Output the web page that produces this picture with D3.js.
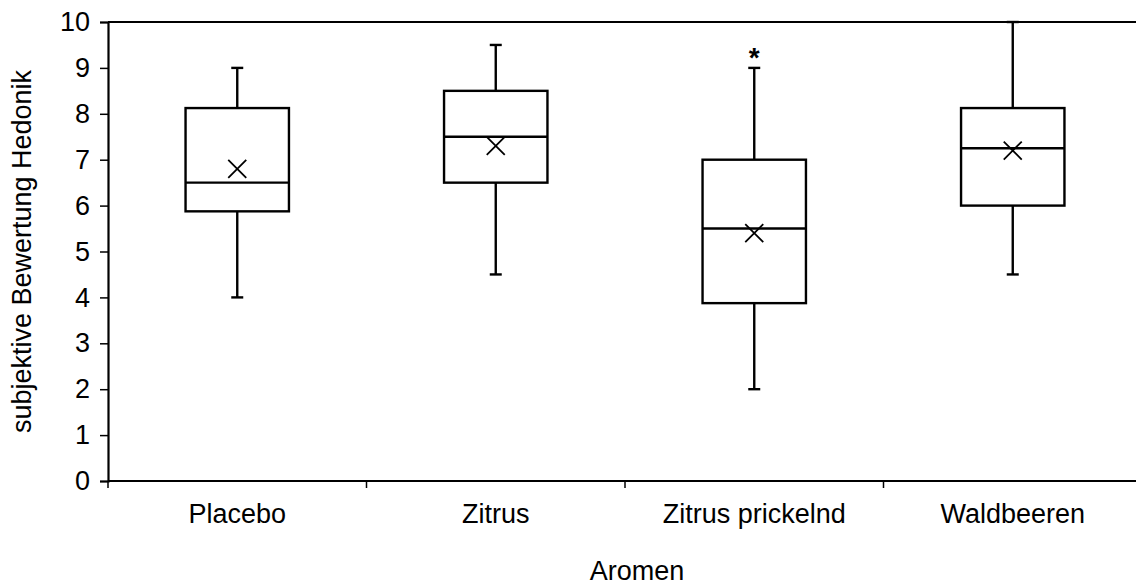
<!DOCTYPE html>
<html>
<head>
<meta charset="utf-8">
<script src="https://cdn.jsdelivr.net/npm/d3@7"></script>
<style>
  body { margin: 0; background: #fff; }
  text { font-family: "Liberation Sans", Arial, sans-serif; fill: #000; }
</style>
</head>
<body>
<div id="chart"></div>
<script>
// box plot data
let categories = ["Placebo", "Zitrus", "Zitrus prickelnd", "Waldbeeren"];
let minVals    = [4, 4.5, 2, 4.5];
let q1Vals     = [5.875, 6.5, 3.875, 6];
let medians    = [6.5, 7.5, 5.5, 7.25];
let q3Vals     = [8.125, 8.5, 7, 8.125];
let maxVals    = [9, 9.5, 9, 10];
let means      = [6.8, 7.3, 5.4, 7.2];
let yTicks     = [0, 1, 2, 3, 4, 5, 6, 7, 8, 9, 10];
let outliers   = [{cat: "Zitrus prickelnd", value: 9.35}];

let width = 1136, height = 586;
let margin = {left: 108, top: 22, right: -6, bottom: 105};
let fontSize = '27px';

let svg = d3.select('#chart').append('svg')
    .attr('width', width)
    .attr('height', height);

let x = d3.scaleBand()
    .domain(categories)
    .range([margin.left, width - margin.right]);
let y = d3.scaleLinear()
    .domain([0, 10])
    .range([height - margin.bottom, margin.top]);

let boxW = x.bandwidth() * 0.4;
let capW = 12;

// top border line
svg.append('line')
    .attr('x1', margin.left).attr('x2', width)
    .attr('y1', y(10)).attr('y2', y(10))
    .attr('stroke', '#000').attr('stroke-width', 2);

// y axis
let yAxis = svg.append('g')
    .attr('transform', 'translate(' + margin.left + ',0)')
    .call(d3.axisLeft(y).tickValues(yTicks).tickSize(8).tickPadding(10));
yAxis.select('.domain').attr('stroke-width', 2.2);
yAxis.selectAll('.tick line').attr('stroke-width', 1.5);
yAxis.selectAll('text')
    .style('font-size', fontSize)
    .style('font-family', '"Liberation Sans", Arial, sans-serif');

// x axis: ticks at category boundaries
let xg = svg.append('g');
xg.append('line')
    .attr('x1', margin.left).attr('x2', width)
    .attr('y1', y(0)).attr('y2', y(0))
    .attr('stroke', '#000').attr('stroke-width', 2.2);
categories.forEach(function(c) {
    xg.append('line')
        .attr('x1', x(c)).attr('x2', x(c))
        .attr('y1', y(0)).attr('y2', y(0) + 7)
        .attr('stroke', '#000').attr('stroke-width', 1.5);
    xg.append('text')
        .attr('x', x(c) + x.bandwidth() / 2)
        .attr('y', 523)
        .attr('text-anchor', 'middle')
        .style('font-size', fontSize)
        .text(c);
});

// boxes
categories.forEach(function(c, i) {
    let cx = x(c) + x.bandwidth() / 2;
    let g = svg.append('g')
        .attr('stroke', '#000')
        .attr('fill', 'none')
        .attr('stroke-width', 2.4);

    // whiskers
    g.append('line').attr('x1', cx).attr('x2', cx)
        .attr('y1', y(q3Vals[i])).attr('y2', y(maxVals[i]));
    g.append('line').attr('x1', cx).attr('x2', cx)
        .attr('y1', y(q1Vals[i])).attr('y2', y(minVals[i]));
    g.append('line').attr('x1', cx - capW / 2).attr('x2', cx + capW / 2)
        .attr('y1', y(maxVals[i])).attr('y2', y(maxVals[i]));
    g.append('line').attr('x1', cx - capW / 2).attr('x2', cx + capW / 2)
        .attr('y1', y(minVals[i])).attr('y2', y(minVals[i]));

    // box
    g.append('rect')
        .attr('x', cx - boxW / 2)
        .attr('y', y(q3Vals[i]))
        .attr('width', boxW)
        .attr('height', y(q1Vals[i]) - y(q3Vals[i]))
        .attr('fill', '#fff');

    // median
    g.append('line').attr('x1', cx - boxW / 2).attr('x2', cx + boxW / 2)
        .attr('y1', y(medians[i])).attr('y2', y(medians[i]));

    // mean marker (x)
    let my = y(means[i]), s = 9;
    g.append('path')
        .attr('d', 'M' + (cx - s) + ',' + (my - s) + 'L' + (cx + s) + ',' + (my + s) +
                   'M' + (cx - s) + ',' + (my + s) + 'L' + (cx + s) + ',' + (my - s))
        .attr('stroke-width', 1.8);
});

// outlier asterisks
outliers.forEach(function(o) {
    svg.append('text')
        .attr('x', x(o.cat) + x.bandwidth() / 2)
        .attr('y', y(o.value) + 15)
        .attr('text-anchor', 'middle')
        .style('font-size', '28px')
        .style('font-weight', 'bold')
        .text('*');
});

// axis titles
svg.append('text')
    .attr('x', 637)
    .attr('y', 580)
    .attr('text-anchor', 'middle')
    .style('font-size', fontSize)
    .text('Aromen');

svg.append('text')
    .attr('transform', 'translate(31,' + ((y(0) + y(10)) / 2) + ') rotate(-90)')
    .attr('text-anchor', 'middle')
    .style('font-size', fontSize)
    .text('subjektive Bewertung Hedonik');
</script>
</body>
</html>
